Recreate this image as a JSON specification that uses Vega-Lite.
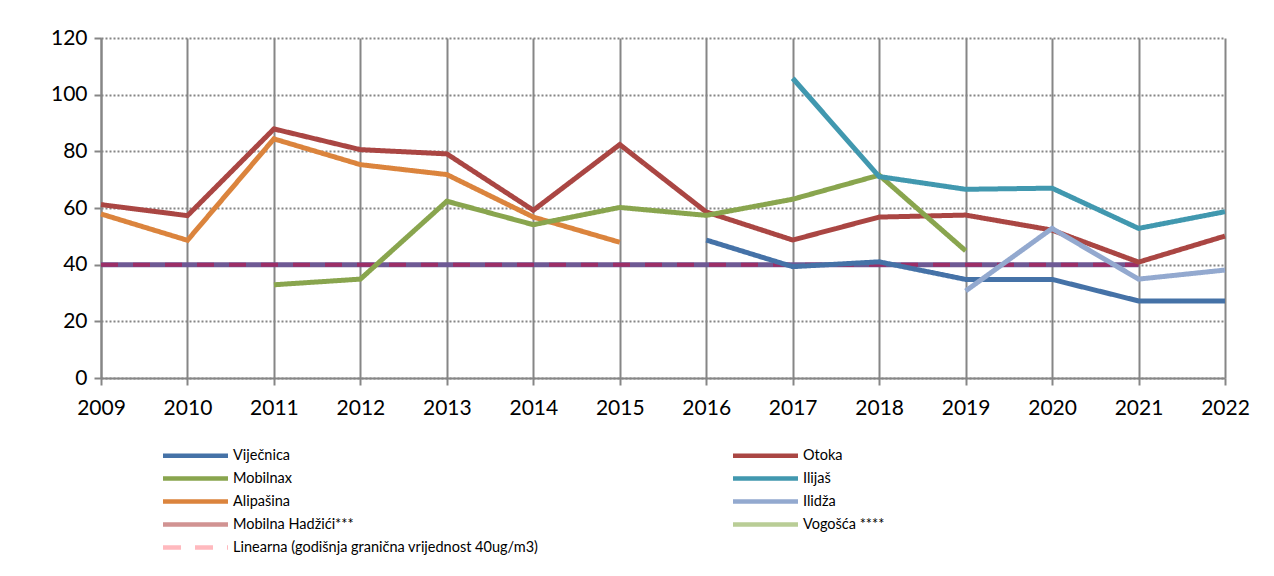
{
  "$schema": "https://vega.github.io/schema/vega-lite/v6.json",
  "width": 1124,
  "height": 340,
  "autosize": {"type": "none"},
  "padding": {"left": 101, "top": 38, "right": 49, "bottom": 198},
  "background": "white",
  "config": {
    "view": {"stroke": null},
    "font": "Lato",
    "axis": {
      "labelFont": "Lato",
      "labelFontSize": 21,
      "labelColor": "#000000",
      "domainColor": "#868686",
      "domainWidth": 2,
      "tickColor": "#868686",
      "tickWidth": 2,
      "tickSize": 7,
      "gridColor": "#868686",
      "gridWidth": 2,
      "gridOpacity": 1
    },
    "axisX": {"labelPadding": 12, "labelAngle": 0},
    "axisY": {"gridDash": [2, 2], "labelPadding": 7}
  },
  "datasets": {
    "main": [
      {"year": 2009, "series": "Otoka", "value": 61.2},
      {"year": 2010, "series": "Otoka", "value": 57.3},
      {"year": 2011, "series": "Otoka", "value": 87.9},
      {"year": 2012, "series": "Otoka", "value": 80.6},
      {"year": 2013, "series": "Otoka", "value": 79.1},
      {"year": 2014, "series": "Otoka", "value": 59.2},
      {"year": 2015, "series": "Otoka", "value": 82.4},
      {"year": 2016, "series": "Otoka", "value": 58.6},
      {"year": 2017, "series": "Otoka", "value": 48.7},
      {"year": 2018, "series": "Otoka", "value": 56.8},
      {"year": 2019, "series": "Otoka", "value": 57.5},
      {"year": 2020, "series": "Otoka", "value": 52.2},
      {"year": 2021, "series": "Otoka", "value": 40.9},
      {"year": 2022, "series": "Otoka", "value": 50.1},
      {"year": 2009, "series": "Alipašina", "value": 57.9},
      {"year": 2010, "series": "Alipašina", "value": 48.6},
      {"year": 2011, "series": "Alipašina", "value": 84.4},
      {"year": 2012, "series": "Alipašina", "value": 75.3},
      {"year": 2013, "series": "Alipašina", "value": 71.8},
      {"year": 2014, "series": "Alipašina", "value": 56.8},
      {"year": 2015, "series": "Alipašina", "value": 47.9},
      {"year": 2011, "series": "Mobilnax", "value": 32.9},
      {"year": 2012, "series": "Mobilnax", "value": 34.9},
      {"year": 2013, "series": "Mobilnax", "value": 62.4},
      {"year": 2014, "series": "Mobilnax", "value": 54.1},
      {"year": 2015, "series": "Mobilnax", "value": 60.2},
      {"year": 2016, "series": "Mobilnax", "value": 57.4},
      {"year": 2017, "series": "Mobilnax", "value": 63.1},
      {"year": 2018, "series": "Mobilnax", "value": 71.6},
      {"year": 2019, "series": "Mobilnax", "value": 44.9},
      {"year": 2016, "series": "Viječnica", "value": 48.7},
      {"year": 2017, "series": "Viječnica", "value": 39.3},
      {"year": 2018, "series": "Viječnica", "value": 41.0},
      {"year": 2019, "series": "Viječnica", "value": 34.8},
      {"year": 2020, "series": "Viječnica", "value": 34.8},
      {"year": 2021, "series": "Viječnica", "value": 27.2},
      {"year": 2022, "series": "Viječnica", "value": 27.2},
      {"year": 2017, "series": "Ilijaš", "value": 105.8},
      {"year": 2018, "series": "Ilijaš", "value": 71.1},
      {"year": 2019, "series": "Ilijaš", "value": 66.6},
      {"year": 2020, "series": "Ilijaš", "value": 67.0},
      {"year": 2021, "series": "Ilijaš", "value": 52.8},
      {"year": 2022, "series": "Ilijaš", "value": 58.7},
      {"year": 2019, "series": "Ilidža", "value": 30.7},
      {"year": 2020, "series": "Ilidža", "value": 52.8},
      {"year": 2021, "series": "Ilidža", "value": 34.9},
      {"year": 2022, "series": "Ilidža", "value": 38.1}
    ],
    "limit": [
      {"year": 2009, "value": 40},
      {"year": 2010, "value": 40},
      {"year": 2011, "value": 40},
      {"year": 2012, "value": 40},
      {"year": 2013, "value": 40},
      {"year": 2014, "value": 40},
      {"year": 2015, "value": 40},
      {"year": 2016, "value": 40},
      {"year": 2017, "value": 40},
      {"year": 2018, "value": 40},
      {"year": 2019, "value": 40},
      {"year": 2020, "value": 40},
      {"year": 2021, "value": 40}
    ]
  },
  "encoding": {
    "x": {
      "field": "year",
      "type": "ordinal",
      "title": null,
      "scale": {"type": "point", "padding": 0, "domain": [2009, 2010, 2011, 2012, 2013, 2014, 2015, 2016, 2017, 2018, 2019, 2020, 2021, 2022]},
      "axis": {"grid": true, "labelAngle": 0}
    },
    "y": {
      "field": "value",
      "type": "quantitative",
      "title": null,
      "scale": {"domain": [0, 120], "nice": false},
      "axis": {"values": [0, 20, 40, 60, 80, 100, 120], "grid": true}
    }
  },
  "layer": [
    {
      "data": {"name": "limit"},
      "mark": {"type": "line", "color": "#6E5994", "strokeWidth": 5},
      "encoding": {}
    },
    {
      "data": {"name": "limit"},
      "mark": {"type": "line", "color": "#9C2E66", "strokeWidth": 4, "strokeDash": [17, 15]},
      "encoding": {}
    },
    {
      "data": {"name": "main"},
      "mark": {"type": "line", "strokeWidth": 5, "strokeJoin": "miter"},
      "encoding": {
        "color": {
          "field": "series",
          "type": "nominal",
          "title": null,
          "scale": {
            "domain": ["Viječnica", "Mobilnax", "Alipašina", "Mobilna Hadžići***", "Linearna (godišnja granična vrijednost 40ug/m3)", "Otoka", "Ilijaš", "Ilidža", "Vogošća ****"],
            "range": ["#4572A7", "#89A54E", "#DB843D", "#D19392", "#FFB9BE", "#AA4643", "#4198AF", "#93A9CF", "#B9CD96"]
          },
          "legend": {
            "orient": "none",
            "legendX": 87,
            "legendY": 410,
            "columns": 2,
            "columnPadding": 185,
            "rowPadding": 4,
            "symbolType": "M-6.5,0H6.5",
            "symbolSize": 100,
            "symbolStrokeWidth": 4.5,
            "labelOffset": 30,
            "labelFont": "Lato",
            "labelFontSize": 14.5,
            "labelColor": "#000000",
            "labelLimit": 500
          }
        },
        "strokeDash": {
          "field": "series",
          "type": "nominal",
          "title": null,
          "scale": {
            "domain": ["Viječnica", "Mobilnax", "Alipašina", "Mobilna Hadžići***", "Linearna (godišnja granična vrijednost 40ug/m3)", "Otoka", "Ilijaš", "Ilidža", "Vogošća ****"],
            "range": [[1, 0], [1, 0], [1, 0], [1, 0], [18, 14], [1, 0], [1, 0], [1, 0], [1, 0]]
          }
        }
      }
    }
  ]
}
